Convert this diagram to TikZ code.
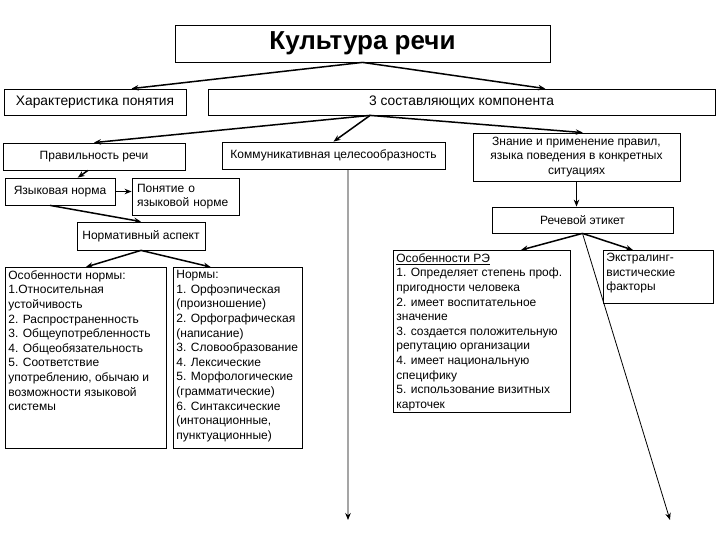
\documentclass[tikz,border=0pt]{standalone}
\usepackage{fontspec}
\setmainfont{Liberation Sans}
\usetikzlibrary{arrows.meta,calc}

\newcommand{\bodyfont}{\fontsize{12}{14.6}\selectfont}
\newcommand{\boxtext}[3]{\parbox[t][#1][t]{#2}{\raggedright #3}}

\begin{document}
\begin{tikzpicture}[x=1pt, y=-1pt, >={Stealth[length=7pt,width=5.5pt]}, line width=0.8pt,
    cell/.style={draw, rectangle, inner sep=0pt, font=\bodyfont},
    bigcell/.style={cell, font=\fontsize{13.8}{16}\selectfont},
    listbox/.style={draw, rectangle, anchor=north west, inner sep=3pt, font=\bodyfont},
    link/.style={->, line width=1.5pt},
    thinlink/.style={->, line width=0.8pt}]
    \useasboundingbox (0,0) rectangle (720,540);

    % Nodes {title, row 2, row 3, ...}
    \node [cell, minimum width=375, minimum height=37] (title) at (362.5,43.5)
        {\fontsize{26}{30}\selectfont\bfseries Культура речи};
    \node [bigcell, minimum width=182, minimum height=26] (char)  at (95,102)    {Характеристика понятия};
    \node [bigcell, minimum width=507, minimum height=26] (comp)  at (461.5,102) {3 составляющих компонента};

    \node [cell, minimum width=182, minimum height=27] (prav)  at (94,156.5)   {Правильность речи};
    \node [cell, minimum width=223, minimum height=27] (komm)  at (333.5,155.5) {Коммуникативная целесообразность};
    \node [cell, minimum width=207, minimum height=48, align=center] (znan) at (576.5,157)
        {Знание и применение правил,\\ языка поведения в конкретных\\ ситуациях};

    \node [cell, minimum width=110, minimum height=27] (yaz)   at (60,191.5)   {Языковая норма};
    \node [cell, minimum width=107, minimum height=37, text width=97, align=left] (pon) at (185.5,196.5)
        {Понятие о\\ языковой норме};
    \node [cell, minimum width=128, minimum height=28] (norm)  at (141,236)    {Нормативный аспект};
    \node [cell, minimum width=181, minimum height=26] (etik)  at (582.5,220)  {Речевой этикет};

    \node [listbox] (osn) at (5,267) {\boxtext{175pt}{155pt}{Особенности нормы:\\ 1.Относительная\\ устойчивость\\
        2. Распространенность\\ 3. Общеупотребленность\\ 4. Общеобязательность\\ 5. Соответствие\\
        употреблению, обычаю и\\ возможности языковой\\ системы}};
    \node [listbox] (norms) at (173,267) {\boxtext{175pt}{123pt}{Нормы:\\ 1. Орфоэпическая\\ (произношение)\\
        2. Орфографическая\\ (написание)\\ 3. Словообразование\\ 4. Лексические\\ 5. Морфологические\\
        (грамматические)\\ 6. Синтаксические\\ (интонационные,\\ пунктуационные)}};
    \node [listbox] (osre) at (393,250) {\boxtext{156pt}{171pt}{\underline{Особенности РЭ}\\
        1. Определяет степень проф.\\ пригодности человека\\ 2. имеет воспитательное\\ значение\\
        3. создается положительную\\ репутацию организации\\ 4. имеет национальную\\ специфику\\
        5. использование визитных\\ карточек}};
    \node [listbox] (ekst) at (603,250) {\boxtext{47pt}{104pt}{Экстралинг-\\ вистические\\ факторы}};

    \coordinate (kend) at (348,520);
    \coordinate (eend) at (670,520);

    % Paths
    \draw [link] (title.south) -- ($(char.north west)!0.70!(char.north east)$);
    \draw [link] (title.south) -- ($(comp.north west)!0.665!(comp.north east)$);
    \draw [link] ($(comp.south west)!0.32!(comp.south east)$) -- (prav.north);
    \draw [link] ($(comp.south west)!0.32!(comp.south east)$) -- (komm.north);
    \draw [link] ($(comp.south west)!0.32!(comp.south east)$) -- ($(znan.north west)!0.53!(znan.north east)$);
    \draw [thinlink] ($(komm.south west)!0.565!(komm.south east)$) -- (kend);

    \draw [link] ($(prav.south west)!0.467!(prav.south east)$) -- ($(yaz.north west)!0.66!(yaz.north east)$);
    \draw [link] (yaz.east) -- (yaz.east -| pon.west);
    \draw [link] ($(yaz.south west)!0.41!(yaz.south east)$) -- (norm.north);
    \draw [link] (norm.south) -- (osn.north);
    \draw [link] (norm.south) -- ($(norms.north west)!0.29!(norms.north east)$);

    \draw [thinlink] (znan.south) -- (znan.south |- etik.north);
    \draw [link] (etik.south) -- ($(osre.north west)!0.72!(osre.north east)$);
    \draw [link] (etik.south) -- ($(ekst.north west)!0.27!(ekst.north east)$);
    \draw [thinlink] (etik.south) -- (eend);
\end{tikzpicture}
\end{document}
